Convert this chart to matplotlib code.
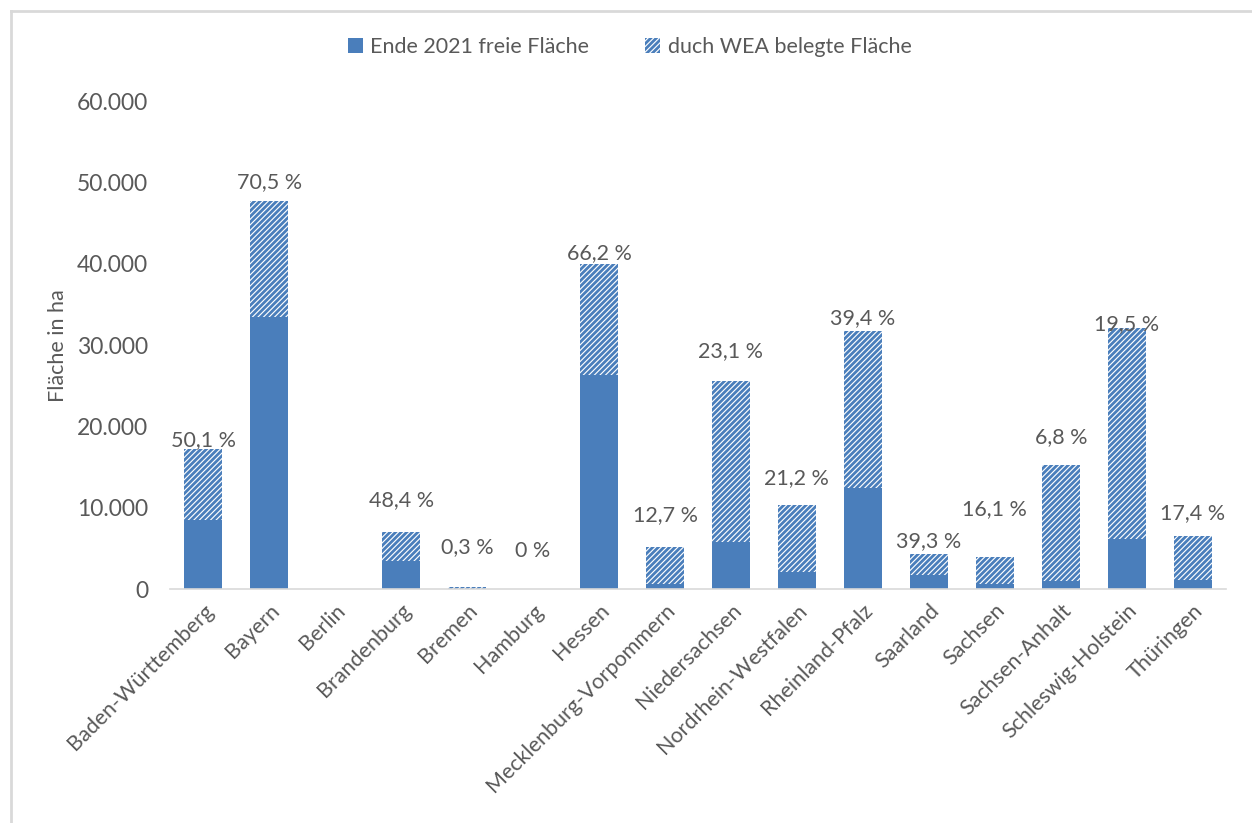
import matplotlib.pyplot as plt
from matplotlib.lines import Line2D
from matplotlib.ticker import FuncFormatter

plt.rcParams['font.family'] = ['Lato', 'DejaVu Sans']
plt.rcParams['hatch.linewidth'] = 2.0

# Daten (Fläche in ha)
laender = ['Baden-Württemberg', 'Bayern', 'Berlin', 'Brandenburg', 'Bremen', 'Hamburg',
           'Hessen', 'Mecklenburg-Vorpommern', 'Niedersachsen', 'Nordrhein-Westfalen',
           'Rheinland-Pfalz', 'Saarland', 'Sachsen', 'Sachsen-Anhalt',
           'Schleswig-Holstein', 'Thüringen']
frei = [8500, 33500, 0, 3450, 0, 0, 26350, 650, 5850, 2150, 12400, 1750, 620, 1040, 6200, 1130]
belegt = [8700, 14200, 0, 3550, 250, 0, 13650, 4500, 19750, 8200, 19350, 2550, 3330, 14200, 25900, 5400]
prozent = ['50,1 %', '70,5 %', '', '48,4 %', '0,3 %', '0 %', '66,2 %', '12,7 %', '23,1 %',
           '21,2 %', '39,4 %', '39,3 %', '16,1 %', '6,8 %', '19,5 %', '17,4 %']
# Höhe der Beschriftungen (wie im Original, in ha)
label_hoehe = [18300, 50100, 0, 10950, 5200, 4700, 41300, 9100, 29300, 13650,
               33300, 5900, 9850, 18700, 32600, 9350]

blau = '#4a7ebb'
grau = '#595959'
fs = 15.5

fig = plt.figure(figsize=(12.52, 8.23), dpi=100)
ax = fig.add_axes([0.136, 0.284, 0.843, 0.593])

x = range(len(laender))
ax.bar(x, frei, width=0.58, color=blau, label='Ende 2021 freie Fläche')
ax.bar(x, belegt, width=0.58, bottom=frei, color='white', edgecolor=blau,
       hatch='//////', linewidth=0, label='duch WEA belegte Fläche')

for i, (txt, h) in enumerate(zip(prozent, label_hoehe)):
    if txt:
        ax.text(i, h, txt, ha='center', va='center', fontsize=fs, color=grau)

ax.set_xlim(-0.5, len(laender) - 0.5)
ax.set_ylim(0, 60000)
ax.set_yticks(range(0, 60001, 10000))
ax.yaxis.set_major_formatter(FuncFormatter(lambda v, p: f'{int(v):,}'.replace(',', '.')))
ax.set_xticks(list(x))
ax.set_xticklabels(laender, rotation=45, ha='right', rotation_mode='anchor')
ax.tick_params(axis='both', length=0, labelsize=fs, labelcolor=grau)
ax.tick_params(axis='y', pad=16, labelsize=16.5)
ax.tick_params(axis='x', pad=8)
ax.set_ylabel('Fläche in ha', fontsize=fs, color=grau, labelpad=6)

for s in ['top', 'right', 'left']:
    ax.spines[s].set_visible(False)
ax.spines['bottom'].set_color('#d9d9d9')
ax.spines['bottom'].set_linewidth(1.2)

fig.legend(loc='upper center', bbox_to_anchor=(0.503, 0.978), ncol=2, frameon=False,
           fontsize=fs, labelcolor=grau, handlelength=0.7, handleheight=0.7,
           handletextpad=0.35, columnspacing=2.6)

# heller Rahmen links und oben (Ausschnitt des Diagrammbereichs)
fig.add_artist(Line2D([0.009, 0.009], [0, 0.987], transform=fig.transFigure,
                      color='#d9d9d9', lw=2))
fig.add_artist(Line2D([0.009, 1], [0.987, 0.987], transform=fig.transFigure,
                      color='#d9d9d9', lw=2))

fig.savefig('out.png', dpi=100)
